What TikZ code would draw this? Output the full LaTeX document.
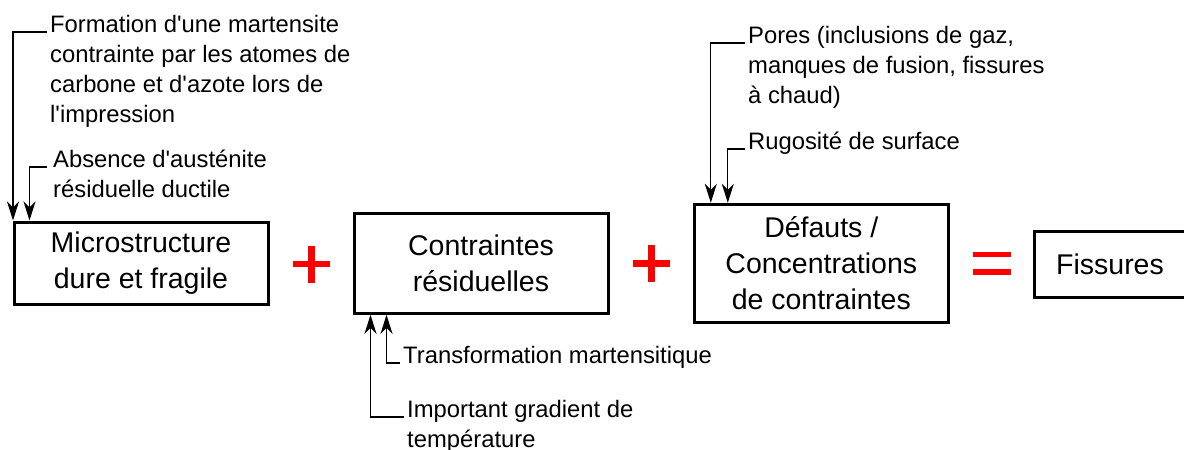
\documentclass[tikz,border=0pt]{standalone}
\usepackage{fontspec}
\setmainfont{Liberation Sans}
\usetikzlibrary{arrows.meta,positioning,calc}

\begin{document}
\begin{tikzpicture}[
  x=1pt, y=-1pt,
  block/.style={rectangle, draw, line width=3pt, minimum width=254pt, align=center, inner sep=0pt, font=\fontsize{28.5}{36}\selectfont},
  note/.style={anchor=north west, inner sep=0pt, align=left, font=\fontsize{23.8}{30}\selectfont},
  arrow/.style={-{Stealth[length=19pt, width=12pt, inset=6pt]}, line width=1.3pt},
  opplus/.style={minimum size=37pt, inner sep=0pt, path picture={\draw[red, line width=6.5pt] (path picture bounding box.north) -- (path picture bounding box.south) (path picture bounding box.west) -- (path picture bounding box.east);}},
  opequal/.style={minimum width=38pt, minimum height=23pt, inner sep=0pt, path picture={\draw[red, line width=5.5pt] ([yshift=-2.75pt]path picture bounding box.north west) -- ([yshift=-2.75pt]path picture bounding box.north east) ([yshift=2.75pt]path picture bounding box.south west) -- ([yshift=2.75pt]path picture bounding box.south east);}}
]
  \useasboundingbox (0,0) rectangle (1184,450);

  % main chain
  \node[block, minimum height=82pt] (micro) at (141,263) {Microstructure\\dure et fragile};
  \node[block, minimum height=100pt] (resid) at (481,263.3) {Contraintes\\résiduelles};
  \node[block, minimum height=118pt] (defaut) at (821.3,263.3) {Défauts /\\Concentrations\\de contraintes};
  \node[block, minimum height=66pt, minimum width=151pt] (fiss) at (1110,264.3) {Fissures};

  \node[opplus] (plusA) at (311.5,264) {};
  \node[opplus] (plusB) at (651.5,263.5) {};
  \node[opequal] (egal) at (992,263) {};

  % causes
  \node[note] (martens) at (50,15) {Formation d\textquotesingle une martensite\\contrainte par les atomes de\\carbone et d\textquotesingle azote lors de\\l\textquotesingle impression};
  \node[note] (austen) at (53,150) {Absence d\textquotesingle austénite\\résiduelle ductile};
  \node[note] (transfo) at (403,346) {Transformation martensitique};
  \node[note] (gradient) at (407,400) {Important gradient de\\température};
  \node[note] (pores) at (748,26) {Pores (inclusions de gaz,\\manques de fusion, fissures\\à chaud)};
  \node[note] (rugos) at (748,132) {Rugosité de surface};

  \draw[arrow] ([xshift=-3pt,yshift=-17pt]martens.north west) -| ([xshift=0.5pt]micro.north west);
  \draw[arrow] ([xshift=-6pt,yshift=-17pt]austen.north west) -| ([xshift=17pt]micro.north west);
  \draw[arrow] ([xshift=-3pt,yshift=-17pt]transfo.north west) -| ([xshift=34pt]resid.south west);
  \draw[arrow] ([xshift=-3pt,yshift=-17pt]gradient.north west) -| ([xshift=18pt]resid.south west);
  \draw[arrow] ([xshift=-3pt,yshift=-17pt]pores.north west) -| ([xshift=18pt]defaut.north west);
  \draw[arrow] ([xshift=-3pt,yshift=-17pt]rugos.north west) -| ([xshift=35pt]defaut.north west);
\end{tikzpicture}
\end{document}
